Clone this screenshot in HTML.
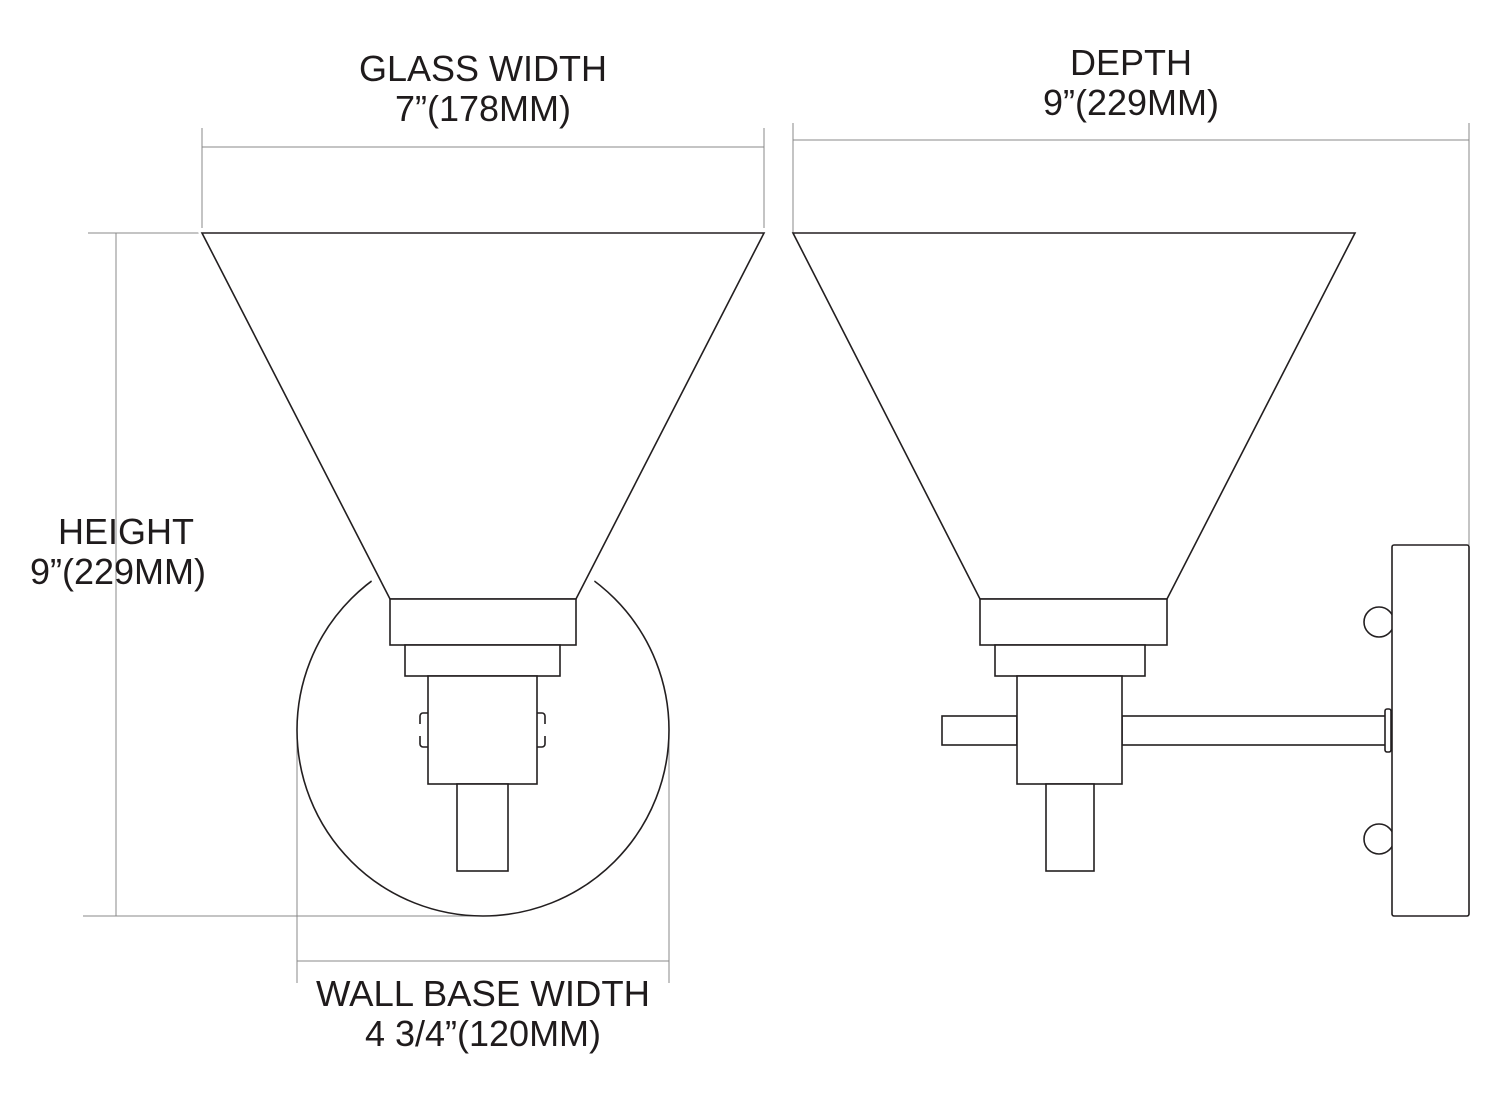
<!DOCTYPE html>
<html><head><style>
html,body{margin:0;padding:0;background:#fff;}
svg{display:block}
text{font-family:"Liberation Sans",sans-serif;font-size:36px;fill:#1f1b1c;text-anchor:middle}
</style></head><body>
<svg width="1500" height="1103" viewBox="0 0 1500 1103">
<g stroke="#888" stroke-width="1" fill="none">
<line x1="202" y1="128" x2="202" y2="233"/><line x1="764" y1="128" x2="764" y2="233"/>
<line x1="202" y1="147" x2="764" y2="147"/>
<line x1="88" y1="233" x2="202" y2="233"/><line x1="83" y1="916" x2="490" y2="916"/>
<line x1="116" y1="233" x2="116" y2="916"/>
<line x1="297" y1="735" x2="297" y2="983"/><line x1="669" y1="735" x2="669" y2="983"/>
<line x1="297" y1="961" x2="669" y2="961"/>
<line x1="793" y1="123" x2="793" y2="233"/><line x1="1469" y1="123" x2="1469" y2="545"/>
<line x1="793" y1="140" x2="1469" y2="140"/>
</g>
<g stroke="#231f20" stroke-width="1.6" fill="#fff">
<circle cx="483" cy="730" r="186"/>
<polygon points="196,228 770,228 583,604 383,604" stroke="none"/>
<polygon points="202,233 764,233 576,599 390,599"/>
<rect x="390" y="599" width="186" height="46"/>
<rect x="405" y="645" width="155" height="31"/>
<rect x="428" y="676" width="109" height="108"/>
<rect x="457" y="784" width="51" height="87"/>
<path d="M428,713 h-5 a3,3 0 0 0 -3,3 v8 M420,736 v8 a3,3 0 0 0 3,3 h5" fill="none"/>
<path d="M537,713 h5 a3,3 0 0 1 3,3 v8 M545,736 v8 a3,3 0 0 1 -3,3 h-5" fill="none"/>
<polygon points="793,233 1355,233 1167,599 980,599"/>
<rect x="980" y="599" width="187" height="46"/>
<rect x="995" y="645" width="150" height="31"/>
<rect x="942" y="716" width="75" height="29"/>
<rect x="1122" y="716" width="264" height="29"/>
<rect x="1385" y="709" width="6" height="43" rx="2"/>
<rect x="1017" y="676" width="105" height="108"/>
<rect x="1046" y="784" width="48" height="87"/>
<circle cx="1379" cy="622" r="15"/><circle cx="1379" cy="839" r="15"/>
<rect x="1392" y="545" width="77" height="371" rx="2"/>
</g>
<text x="483" y="81">GLASS WIDTH</text>
<text x="483" y="121">7”(178MM)</text>
<text x="1131" y="75">DEPTH</text>
<text x="1131" y="115">9”(229MM)</text>
<text x="126" y="544">HEIGHT</text>
<text x="118" y="584">9”(229MM)</text>
<text x="483" y="1006" textLength="334" lengthAdjust="spacingAndGlyphs">WALL BASE WIDTH</text>
<text x="483" y="1046">4 3/4”(120MM)</text>
</svg>
</body></html>
